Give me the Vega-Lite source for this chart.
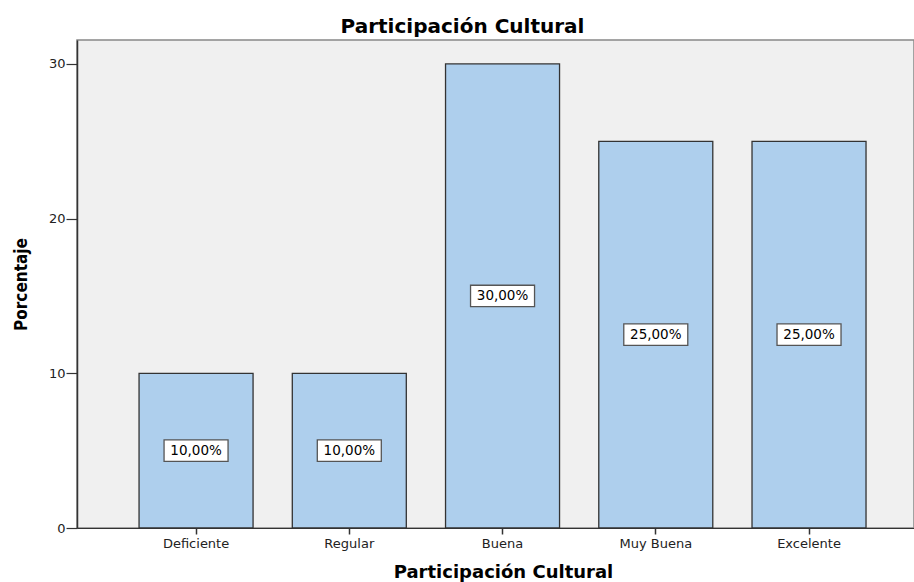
{
  "$schema": "https://vega.github.io/schema/vega-lite/v6.json",
  "width": 837,
  "height": 488,
  "autosize": {"type": "none"},
  "padding": {"left": 77, "top": 40, "right": 0, "bottom": 54},
  "background": "white",
  "title": {
    "text": "Participación Cultural",
    "font": "DejaVu Sans",
    "fontSize": 20,
    "fontWeight": "bold",
    "color": "#000000",
    "anchor": "middle",
    "dx": -33,
    "offset": 3
  },
  "data": {
    "values": [
      {"categoria": "Deficiente", "Porcentaje": 10, "etiqueta": "10,00%"},
      {"categoria": "Regular", "Porcentaje": 10, "etiqueta": "10,00%"},
      {"categoria": "Buena", "Porcentaje": 30, "etiqueta": "30,00%"},
      {"categoria": "Muy Buena", "Porcentaje": 25, "etiqueta": "25,00%"},
      {"categoria": "Excelente", "Porcentaje": 25, "etiqueta": "25,00%"}
    ]
  },
  "transform": [{"calculate": "datum.Porcentaje / 2", "as": "medio"}],
  "encoding": {
    "x": {
      "field": "categoria",
      "type": "nominal",
      "sort": null,
      "scale": {"paddingInner": 0.256, "paddingOuter": 0.359, "align": 0.564},
      "axis": {
        "title": "Participación Cultural",
        "titleFont": "DejaVu Sans",
        "titleFontSize": 18,
        "titleFontWeight": "bold",
        "titleColor": "#000000",
        "titleX": 426,
        "titleY": 49,
        "titleBaseline": "alphabetic",
        "titleAnchor": "middle",
        "labelAngle": 0,
        "labelFont": "DejaVu Sans",
        "labelFontSize": 13,
        "labelColor": "#222222",
        "labelPadding": 3,
        "tickSize": 6,
        "tickColor": "#333333",
        "tickWidth": 1.5,
        "domainColor": "#333333",
        "domainWidth": 1.2
      }
    }
  },
  "layer": [
    {
      "mark": {"type": "bar", "fill": "#aecfed", "stroke": "#333333", "strokeWidth": 1.3},
      "encoding": {
        "y": {
          "field": "Porcentaje",
          "type": "quantitative",
          "scale": {"domain": [0, 31.55], "nice": false},
          "axis": {
            "title": "Porcentaje",
            "titleFont": "DejaVu Sans Condensed",
            "titleFontSize": 17,
            "titleFontWeight": "bold",
            "titleColor": "#000000",
            "titleX": -56,
            "titleBaseline": "middle",
            "values": [0, 10, 20, 30],
            "grid": false,
            "labelFont": "DejaVu Sans",
            "labelFontSize": 13,
            "labelColor": "#222222",
            "labelPadding": 1,
            "tickSize": 11,
            "tickColor": "#333333",
            "tickWidth": 1.2,
            "domainColor": "#333333",
            "domainWidth": 1.5
          }
        }
      }
    },
    {
      "mark": {
        "type": "point",
        "shape": "M-1,-0.335L1,-0.335L1,0.335L-1,0.335Z",
        "size": 4096,
        "filled": true,
        "fill": "#ffffff",
        "stroke": "#555555",
        "strokeWidth": 1.3,
        "opacity": 1
      },
      "encoding": {
        "y": {"field": "medio", "type": "quantitative"}
      }
    },
    {
      "mark": {
        "type": "text",
        "font": "DejaVu Sans",
        "fontSize": 13.5,
        "color": "#000000",
        "baseline": "middle",
        "align": "center"
      },
      "encoding": {
        "y": {"field": "medio", "type": "quantitative"},
        "text": {"field": "etiqueta", "type": "nominal"}
      }
    }
  ],
  "config": {
    "view": {"fill": "#f0f0f0", "stroke": "#888888", "strokeWidth": 1.5}
  }
}
